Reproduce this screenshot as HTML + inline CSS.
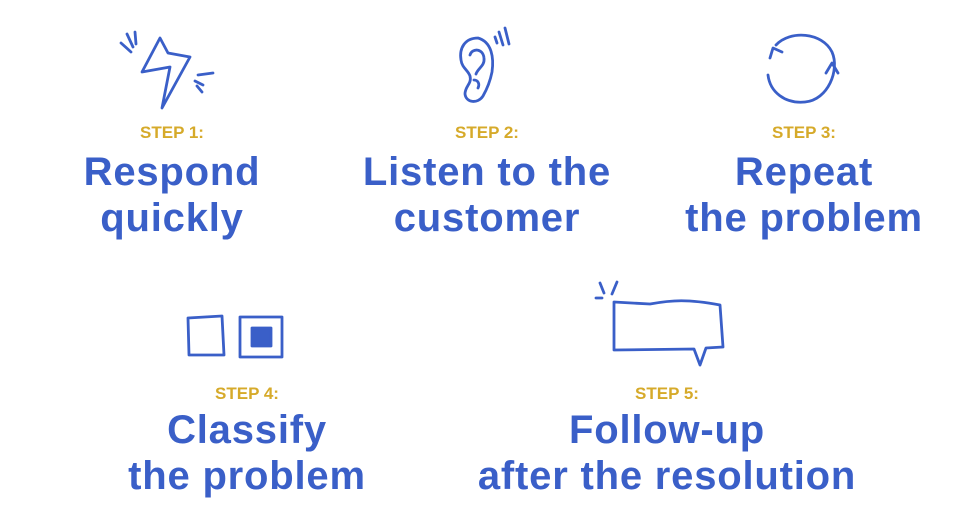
<!DOCTYPE html>
<html><head><style>
body{margin:0;width:974px;height:529px;background:#fff;position:relative;overflow:hidden;font-family:"Liberation Sans",sans-serif}
.s{position:absolute;width:440px;margin-left:-220px;text-align:center}
.l{color:#d6aa2a;font-weight:bold;font-size:17px;line-height:20px}
.t{color:#3a5fc8;font-weight:bold;font-size:40px;line-height:46px;letter-spacing:0.8px}
svg{position:absolute;left:0;top:0}
</style></head><body>
<svg width="974" height="529" fill="none" stroke="#3a5fc8" stroke-width="2.8" stroke-linecap="round" stroke-linejoin="round">
<path d="M160 38 L168 53 L190 57 L162 108 L170 67 L142 72 Z"/>
<path d="M121 43 L131 52 M127 34 L133 47 M135 32 L136 44 M198 75 L213 73 M195 81 L203 85 M197 86 L202 92"/>
<path d="M478 38 C465 38 459 48 461 60 C462 68 468 70 470 76 C472 84 465 86 465 94 C466 103 478 104 483 96 C487 89 490 82 492 72 C494 58 492 42 478 38 Z"/>
<path d="M470 55 C472 48 483 48 484 58 C485 66 478 68 476 74 M474 80 C478 80 480 84 478 88"/>
<path d="M499 32 L503 45 M505 28 L509 44 M495 37 L497 43"/>
<path d="M776 45 C790 30 822 32 832 52 C840 70 828 100 805 102 C785 104 770 92 768 75"/>
<path d="M770 58 L773 48 L782 52 M826 73 L832 63 L838 73"/>
<path d="M188 318 L222 316 L224 355 L189 355 Z"/>
<rect x="240" y="317" width="42" height="40"/>
<rect x="252" y="328" width="19" height="18" fill="#3a5fc8"/>
<path d="M614 302 L650 304 C672 300 688 299 720 305 L723 347 L706 348 L700 365 L694 349 L614 350 Z"/>
<path d="M600 283 L604 293 M617 282 L612 294 M596 298 L602 298"/>
</svg>
<div class="s l" style="left:172px;top:123px">STEP 1:</div>
<div class="s t" style="left:172px;top:149px">Respond<br>quickly</div>
<div class="s l" style="left:487px;top:123px">STEP 2:</div>
<div class="s t" style="left:487px;top:149px">Listen to the<br>customer</div>
<div class="s l" style="left:804px;top:123px">STEP 3:</div>
<div class="s t" style="left:804px;top:149px">Repeat<br>the problem</div>
<div class="s l" style="left:247px;top:384px">STEP 4:</div>
<div class="s t" style="left:247px;top:407px">Classify<br>the problem</div>
<div class="s l" style="left:667px;top:384px">STEP 5:</div>
<div class="s t" style="left:667px;top:407px">Follow-up<br>after the resolution</div>
</body></html>
